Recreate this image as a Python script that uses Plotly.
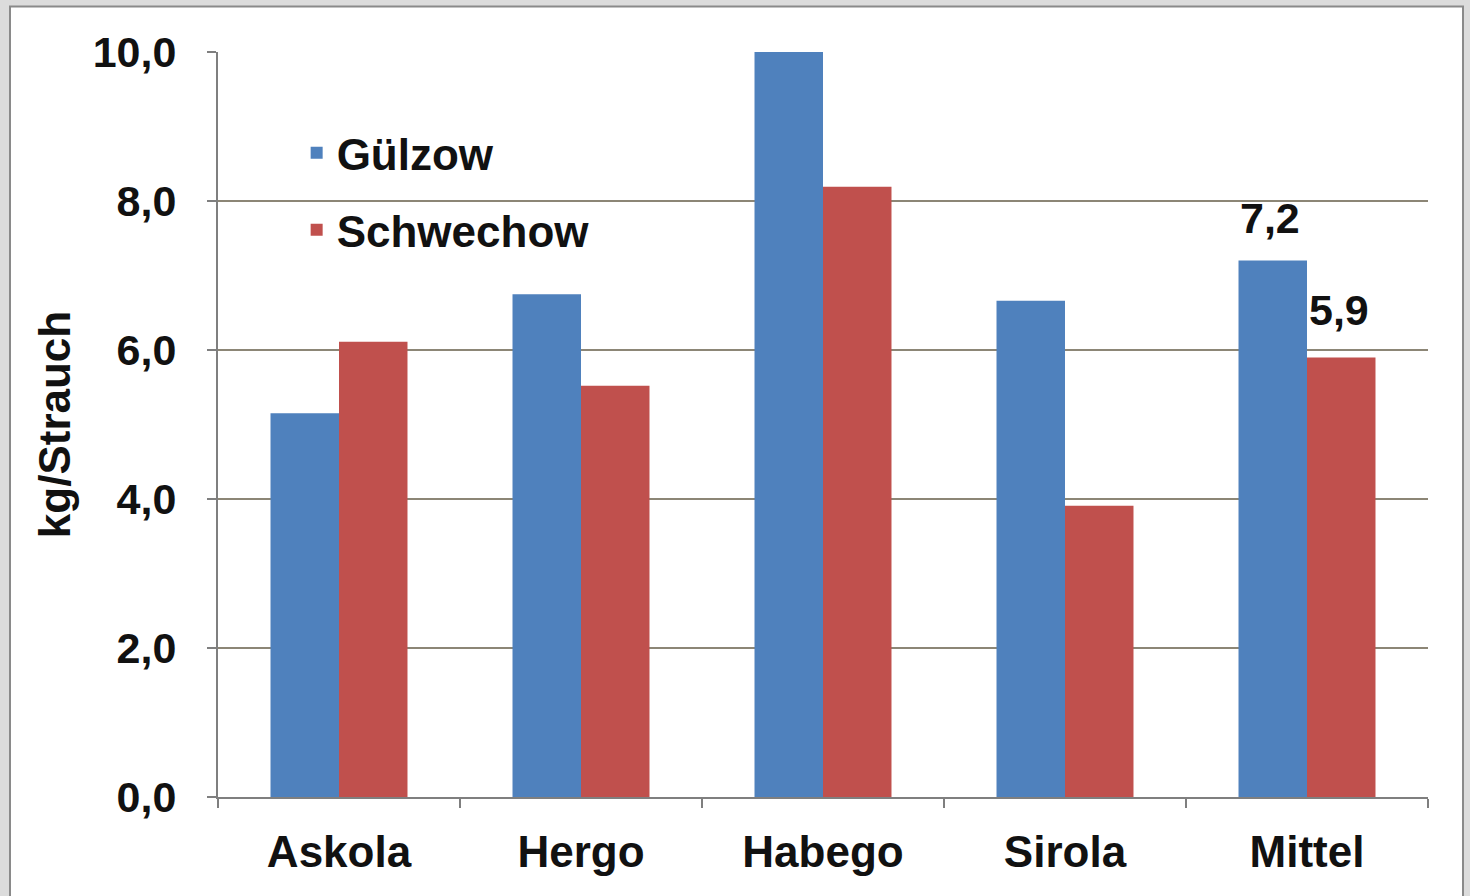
import plotly.graph_objects as go

categories = ["Askola", "Hergo", "Habego", "Sirola", "Mittel"]
guelzow = [5.15, 6.75, 10.2, 6.66, 7.2]
schwechow = [6.11, 5.52, 8.19, 3.91, 5.9]
y_ticks = [0, 2, 4, 6, 8, 10]
y_tick_labels = ["0,0", "2,0", "4,0", "6,0", "8,0", "10,0"]

FONT = "Liberation Sans, Arial, sans-serif"
BLUE = "#4F81BD"
RED = "#C0504D"
TXT = "#111111"

L, R, T, B = 218, 42, 52, 99
W, H = 1470, 896
pw, ph = W - L - R, H - T - B

def px_x(p):
    return (p - L) / pw

def px_y(p):
    return (H - B - p) / ph

def f(size):
    return dict(family=FONT, size=size, color=TXT, weight="bold")

fig = go.Figure()
fig.add_trace(go.Bar(name="Gülzow", x=categories, y=guelzow, marker_color=BLUE,
                     marker_line_width=0, legendgroup="g", cliponaxis=True))
fig.add_trace(go.Bar(name="Schwechow", x=categories, y=schwechow, marker_color=RED,
                     marker_line_width=0, legendgroup="s", cliponaxis=True))

# data labels for Mittel
last = len(categories) - 1
for vals, shift, ys in ((guelzow, -37, 17), (schwechow, 32, 21)):
    fig.add_annotation(x=categories[last], y=vals[last], xref="x", yref="y",
                       text=f"{vals[last]:.1f}".replace(".", ","),
                       showarrow=False, xshift=shift, yshift=ys, yanchor="bottom",
                       font=f(43))

# outer frame
fig.add_shape(type="rect", xref="paper", yref="paper",
              x0=px_x(10), x1=px_x(1463), y0=px_y(905), y1=px_y(6.5),
              line=dict(color="#8A8A8A", width=2), fillcolor="white", layer="below")

fig.update_layout(
    width=W, height=H,
    margin=dict(l=L, r=R, t=T, b=B, pad=0),
    paper_bgcolor="#DCDCDC",
    plot_bgcolor="#F0DFB9",
    barmode="group",
    bargap=0.434,
    bargroupgap=0,
    separators=",.",
    showlegend=True,
    legend=dict(x=0.065, y=0.912, xanchor="left", yanchor="top",
                bgcolor="rgba(0,0,0,0)", font=f(44),
                tracegroupgap=17, traceorder="grouped", itemwidth=30),
    xaxis=dict(showline=True, linecolor="#7F7F7F", linewidth=2,
               ticks="outside", tickson="boundaries", ticklen=9, tickcolor="#7F7F7F",
               tickwidth=2, ticklabelstandoff=15,
               tickfont=f(44),
               showgrid=False),
    yaxis=dict(range=[0, 10], tickvals=y_ticks, ticktext=y_tick_labels,
               showline=True, linecolor="#7F7F7F", linewidth=2,
               ticks="outside", ticklen=9, tickcolor="#7F7F7F", tickwidth=2,
               ticklabelstandoff=22,
               tickfont=f(43),
               showgrid=True, gridcolor="#8C8676", gridwidth=2,
               zeroline=False,
               title=dict(text="kg/Strauch", standoff=8, font=f(44))),
)

fig.write_html("out.html", config={"displayModeBar": False},
               post_script="document.body.style.margin='0';document.body.style.padding='0';")
